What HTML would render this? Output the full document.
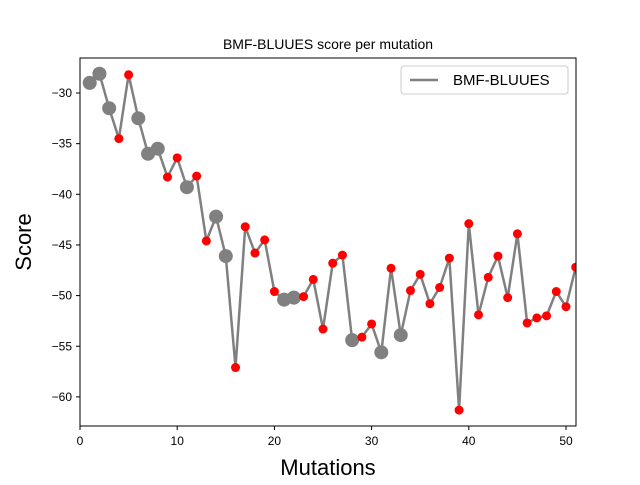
<!DOCTYPE html>
<html><head><meta charset="utf-8"><style>
body{margin:0;background:#fff;font-family:"Liberation Sans",sans-serif}
</style></head><body>
<svg id="chart" width="640" height="480" xmlns="http://www.w3.org/2000/svg" font-family="Liberation Sans, sans-serif">
<defs><clipPath id="clip"><rect x="80" y="58" width="496" height="368"/></clipPath></defs>
<rect width="640" height="480" fill="#fff"/>
<text x="328" y="49" text-anchor="middle" font-size="14">BMF-BLUUES score per mutation</text>
<g id="plot" clip-path="url(#clip)"></g>
<rect x="80" y="58" width="496" height="368" fill="none" stroke="#000" stroke-width="1"/>
<g id="axes"></g>
<text x="328" y="475" text-anchor="middle" font-size="22">Mutations</text>
<text transform="translate(31,242) rotate(-90)" text-anchor="middle" font-size="22">Score</text>
<g>
<rect x="401" y="66" width="167" height="28" rx="3" fill="#fff" stroke="#ccc"/>
<line x1="410" y1="80" x2="438" y2="80" stroke="#808080" stroke-width="2.5"/>
<text x="453" y="85" font-size="15">BMF-BLUUES</text>
</g>
</svg>
<script>
const mutations=[1,2,3,4,5,6,7,8,9,10,11,12,13,14,15,16,17,18,19,20,21,22,23,24,25,26,27,28,29,30,31,32,33,34,35,36,37,38,39,40,41,42,43,44,45,46,47,48,49,50,51];
const scores=[-29.0,-28.1,-31.5,-34.5,-28.2,-32.5,-36.0,-35.5,-38.3,-36.4,-39.3,-38.2,-44.6,-42.2,-46.1,-57.1,-43.2,-45.8,-44.5,-49.6,-50.4,-50.2,-50.1,-48.4,-53.3,-46.8,-46.0,-54.4,-54.1,-52.8,-55.6,-47.3,-53.9,-49.5,-47.9,-50.8,-49.2,-46.3,-61.3,-42.9,-51.9,-48.2,-46.1,-50.2,-43.9,-52.7,-52.2,-52.0,-49.6,-51.1,-47.2];
const accepted=[1,1,1,0,0,1,1,1,0,0,1,0,0,1,1,0,0,0,0,0,1,1,0,0,0,0,0,1,0,0,1,0,1,0,0,0,0,0,0,0,0,0,0,0,0,0,0,0,0,0,0];
const xTicks=[0,10,20,30,40,50];
const yTicks=[-30,-35,-40,-45,-50,-55,-60];
const NS="http://www.w3.org/2000/svg";
const xs=v=>80+v*9.72;
const ys=v=>93+(-30-v)*10.13;
const plot=document.getElementById('plot'),axes=document.getElementById('axes');
function mk(tag,attrs,parent){const e=document.createElementNS(NS,tag);for(const k in attrs)e.setAttribute(k,attrs[k]);parent.appendChild(e);return e;}
const line=mk('polyline',{points:mutations.map((m,i)=>xs(m)+','+ys(scores[i])).join(' '),fill:'none',stroke:'#808080','stroke-width':2.5,'stroke-linejoin':'round'},plot);


mutations.forEach((m,i)=>{
 const a=accepted[i];
 const c=mk('circle',{cx:xs(m),cy:ys(scores[i]),r:a?7:4.5,fill:a?'#808080':'#ff0000'},plot);
 
 
});
xTicks.forEach(t=>{
 const x=xs(t);
 const l=mk('line',{x1:x,y1:426,x2:x,y2:430,stroke:'#000'},axes);
 
 
 const tx=mk('text',{x:x,y:445,'text-anchor':'middle','font-size':12},axes);tx.textContent=t;
 
 
});
yTicks.forEach(t=>{
 const y=ys(t);
 const l=mk('line',{x1:76,y1:y,x2:80,y2:y,stroke:'#000'},axes);
 
 
 const tx=mk('text',{x:72,y:y+4,'text-anchor':'end','font-size':12},axes);tx.textContent='\u2212'+Math.abs(t);
 
 
});
</script>
</body></html>
